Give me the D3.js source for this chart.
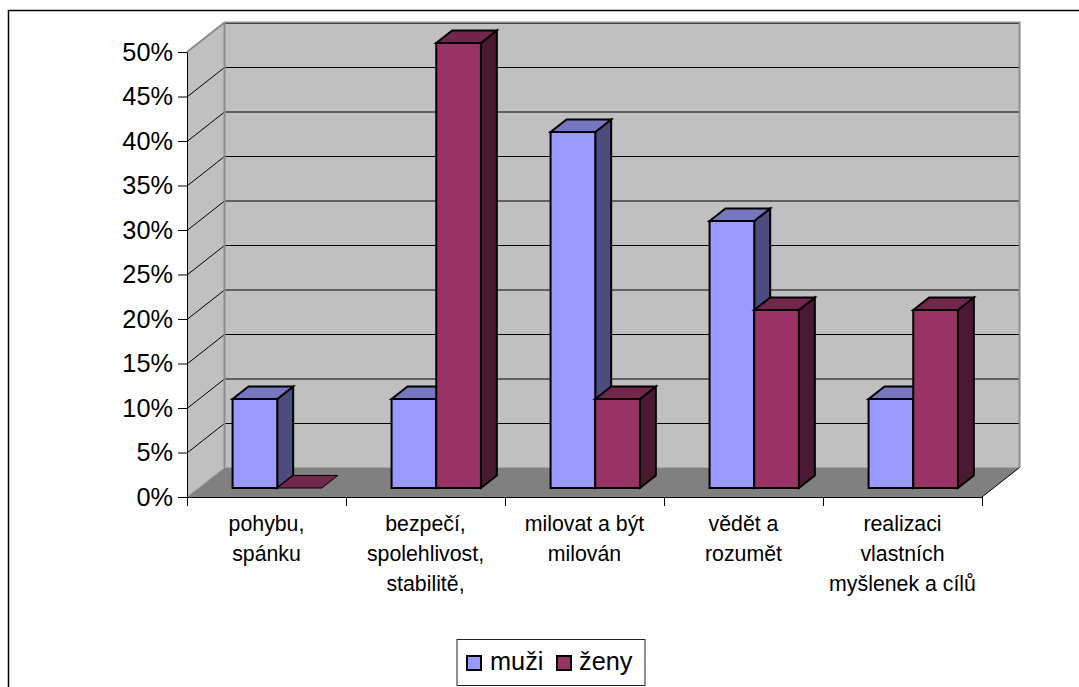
<!DOCTYPE html>
<html lang="cs">
<head>
<meta charset="utf-8">
<title>muži a ženy</title>
<script src="https://cdn.jsdelivr.net/npm/d3@7"></script>
<style>
  html, body { margin: 0; padding: 0; background: #fff; overflow: hidden; }
  svg { display: block; font-family: "Liberation Sans", Arial, sans-serif; fill: #000; }
</style>
</head>
<body>
<svg id="chart" width="1079" height="687"></svg>
<script>
const categories = [
  ["pohybu,", "spánku"],
  ["bezpečí,", "spolehlivost,", "stabilitě,"],
  ["milovat a být", "milován"],
  ["vědět a", "rozumět"],
  ["realizaci", "vlastních", "myšlenek a cílů"]
];
const seriesNames = ["muži", "ženy"];
const muzi = [10, 10, 40, 30, 10];
const zeny = [0, 50, 10, 20, 20];
const seriesValues = [muzi, zeny];
const frontColors = ["#9999ff", "#993366"];
const topColors = ["#7777bf", "#72264c"];
const sideColors = ["#4c4c7f", "#4c1933"];
const yTicks = [0, 5, 10, 15, 20, 25, 30, 35, 40, 45, 50];

const svg = d3.select("#chart");

// Plot box: the front plane sits on x/y, z pushes a point towards the back wall.
const x = d3.scaleBand().domain(d3.range(categories.length)).range([187, 982]);
const y = d3.scaleLinear().domain([0, 50]).range([497, 52]);
const inner = d3.scaleBand().domain(d3.range(seriesNames.length))
  .range([0, x.bandwidth()]).paddingInner(0).paddingOuter(0.78).align(0.49);
const depthX = d3.scaleLinear().domain([0, 1]).range([0, 37.5]);
const depthY = d3.scaleLinear().domain([0, 1]).range([0, -29.5]);
const barNear = 0.305, barFar = 0.73;

const pt = (px, py, z) => [px + depthX(z), py + depthY(z)];
const poly = pts => pts.map(p => p.join(",")).join(" ");

// Walls and floor
const x0 = x.range()[0], x1 = x.range()[1];
const yBase = y(0), yTop = y(50);
const walls = svg.append("g");
walls.append("polygon")
  .attr("points", poly([pt(x0, yTop, 0), pt(x0, yTop, 1), pt(x1, yTop, 1), pt(x1, yBase, 1), pt(x0, yBase, 1), pt(x0, yBase, 0)]))
  .attr("fill", "#c0c0c0");
walls.append("polygon")
  .attr("points", poly([pt(x0, yBase, 0), pt(x0, yBase, 1), pt(x1, yBase, 1), pt(x1, yBase, 0)]))
  .attr("fill", "#808080");

// Gridlines run along the side wall and across the back wall
const grid = walls.append("g").attr("fill", "none").attr("stroke", "#000").attr("stroke-width", 1);
yTicks.filter(v => v > 0 && v < 50).forEach(v => {
  grid.append("polyline")
    .attr("points", poly([pt(x0, y(v) + 0.5, 0), pt(x0, y(v) + 0.5, 1), pt(x1, y(v) + 0.5, 1)]));
});
grid.append("line")
  .attr("x1", pt(x0, yTop, 1)[0]).attr("x2", pt(x1, yTop, 1)[0])
  .attr("y1", pt(x0, yTop, 1)[1] + 1).attr("y2", pt(x1, yTop, 1)[1] + 1);

// Grey wall edges
walls.append("polyline")
  .attr("points", poly([pt(x0, yTop, 0), pt(x0, yTop, 1), pt(x1, yTop, 1), pt(x1, yBase, 1)]))
  .attr("fill", "none").attr("stroke", "#8c8c8c").attr("stroke-width", 2);
walls.append("polyline")
  .attr("points", poly([pt(x0, yBase, 1), pt(x0, yTop, 1)]))
  .attr("fill", "none").attr("stroke", "#8c8c8c").attr("stroke-width", 2);
walls.append("polyline")
  .attr("points", poly([pt(x0, yBase, 0), pt(x0, yBase, 1), pt(x1, yBase, 1)]))
  .attr("fill", "none").attr("stroke", "#a6a6a6").attr("stroke-width", 1);
walls.append("polyline")
  .attr("points", poly([pt(x1, yBase, 1), pt(x1, yBase, 0)]))
  .attr("fill", "none").attr("stroke", "#000").attr("stroke-width", 1);

// Bars, drawn category by category so nearer faces overlap correctly
const barsLayer = svg.append("g").attr("stroke", "#000").attr("stroke-linejoin", "miter");
categories.forEach((_, c) => {
  seriesNames.forEach((_, s) => {
    const v = seriesValues[s][c];
    const l = x(c) + inner(s), r = l + inner.bandwidth();
    const hi = y(v), lo = y(0);
    const g = barsLayer.append("g").attr("stroke-width", v === 0 ? 1 : 2);
    if (v > 0) {
      g.append("polygon")
        .attr("points", poly([pt(r, lo, barNear), pt(r, lo, barFar), pt(r, hi, barFar), pt(r, hi, barNear)]))
        .attr("fill", sideColors[s]);
    }
    g.append("polygon")
      .attr("points", poly([pt(l, hi, barNear), pt(l, hi, barFar), pt(r, hi, barFar), pt(r, hi, barNear)]))
      .attr("fill", topColors[s]);
    if (v > 0) {
      g.append("polygon")
        .attr("points", poly([pt(l, hi, barNear), pt(r, hi, barNear), pt(r, lo, barNear), pt(l, lo, barNear)]))
        .attr("fill", frontColors[s]);
    }
  });
});

// Value axis
const yAxis = svg.append("g")
  .attr("transform", `translate(${x0},0)`)
  .call(d3.axisLeft(y).tickValues(yTicks).tickFormat(d => d + "%").tickSize(9).tickPadding(5).tickSizeOuter(0));
yAxis.select(".domain").attr("stroke", "#000");
yAxis.selectAll("text").attr("font-size", 25.3).attr("font-family", "Liberation Sans").attr("fill", "#000");

// Category axis: ticks mark the boundaries between categories
const xLine = svg.append("g").attr("stroke", "#000").attr("stroke-width", 1);
xLine.append("line").attr("x1", x0).attr("x2", x1).attr("y1", yBase + 0.5).attr("y2", yBase + 0.5);
d3.range(categories.length + 1).forEach(i => {
  const px = Math.round(x0 + i * x.step()) + 0.5;
  xLine.append("line").attr("x1", px).attr("x2", px).attr("y1", yBase).attr("y2", yBase + 9);
});

const labels = svg.append("g").attr("text-anchor", "middle").attr("font-size", 21.3);
categories.forEach((lines, c) => {
  lines.forEach((line, i) => {
    labels.append("text")
      .attr("x", x(c) + x.bandwidth() / 2)
      .attr("y", 531 + i * 30)
      .text(line);
  });
});

// Legend
const legend = svg.append("g");
legend.append("rect").attr("x", 457).attr("y", 639.5).attr("width", 188).attr("height", 46)
  .attr("fill", "#fff").attr("stroke", "#222").attr("stroke-width", 1);
const legendSwatchX = [467, 557], legendTextX = [490, 579];
seriesNames.forEach((name, s) => {
  legend.append("rect").attr("x", legendSwatchX[s]).attr("y", 656).attr("width", 14).attr("height", 14)
    .attr("fill", frontColors[s]).attr("stroke", "#000").attr("stroke-width", 2);
  legend.append("text").attr("x", legendTextX[s]).attr("y", 670).attr("font-size", 25.3).text(name);
});

// Chart frame, open on the right and at the bottom
svg.append("polyline")
  .attr("points", poly([[8.5, 687], [8.5, 10.5], [1079, 10.5]]))
  .attr("fill", "none").attr("stroke", "#000").attr("stroke-width", 1.5);
</script>
</body>
</html>
